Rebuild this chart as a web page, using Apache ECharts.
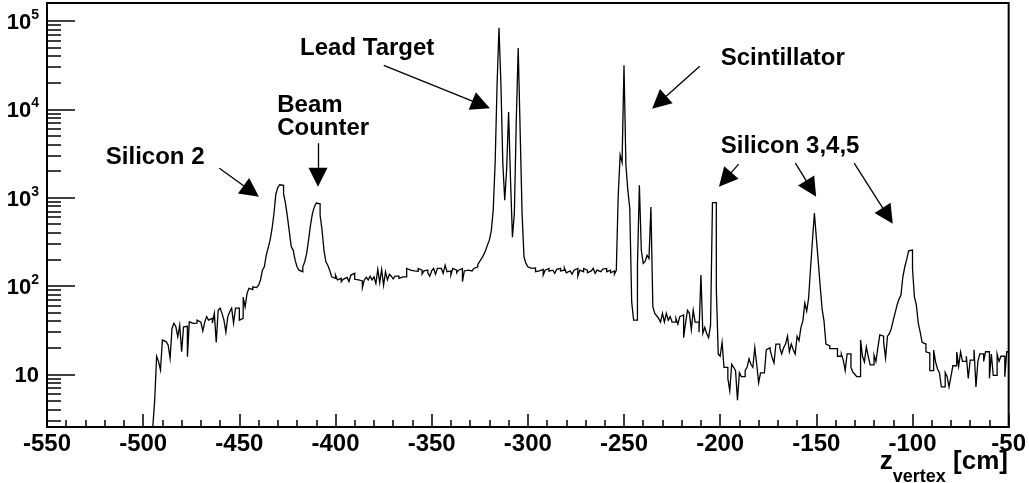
<!DOCTYPE html>
<html><head><meta charset="utf-8">
<script src="https://cdn.jsdelivr.net/npm/echarts@6/dist/echarts.min.js"></script>
<style>html,body{margin:0;padding:0;background:#fff}#c{width:1029px;height:483px}</style>
</head><body><div id="c"></div>
<script>
// ---- data: 1 cm bins, left edges from binStart ----
const binStart = -494;
const binWidth = 1;
// -494 .. -441
const countsRise = [5.1,16,13.9,11.2,24.4,23.3,22.4,21.4,15.2,33,37.7,34.5,26.6,36,18,34.5,35,15.8,39.3,37.7,39,38,41,39,38,31,39,45,41,43,38,49,23,53,56,49,41,30,45,51,56,38,56,56,41,43,75,58,82,94,91,98,96,100];
// -440 .. -403 (Silicon 2, Beam Counter)
const countsSi2Beam = [102,117,151,165,223,270,330,445,660,1100,1300,1400,1380,1110,860,610,410,277,255,196,165,151,145,165,188,233,330,488,660,785,870,850,635,430,255,188,172,150];
// -402 .. -328
const countsFlat1 = [127,122,133,117,122,112,119,125,129,112,133,139,119,117,117,114,96,117,125,117,129,117,127,107,154,109,154,102,145,117,136,129,120,129,129,122,127,125,127,158,151,145,148,145,147,158,151,136,148,151,141,129,148,158,136,158,158,151,139,172,145,148,133,158,151,141,151,158,112,148,151,154,148,151,158];
// -327 .. -301 (Lead Target)
const countsLead = [165,175,190,205,225,250,290,330,420,722,2440,18750,84000,19600,2440,938,2140,9340,1578,357,668,7530,49500,5800,668,214,180];
// -300 .. -255
const countsFlat2 = [165,158,151,160,145,148,141,154,133,151,158,147,151,145,139,154,158,148,151,160,141,148,155,136,151,158,129,151,145,158,151,141,148,154,158,139,151,145,148,155,158,145,151,141,148,136];
// -254 .. -234 (Scintillator)
const countsScint = [150,1067,3030,2500,31500,2335,1215,760,66,41,41,172,1380,255,180,190,223,205,785,58,49];
// -233 .. -205
const countsMid = [46,43,39,49,39,49,41,45,39,39,43,37,45,47,26,38,53,49,32,53,39,39,30,133,29,34,29,26,36];
// -204 .. -171 (Silicon 3 region)
const countsSi3 = [880,880,95,17,16,23,12,12,9,6.5,13,12,11,5.1,10.4,9.4,9.4,11,12,15,13,12,20,13,8,10.4,10.4,10.4,19,20,18.8,15.5,13.4,22];
// -170 .. -144 (Silicon 4)
const countsSi4 = [22,20,17,20,22,27,18,22,19,17,27,24,34,40,64,52,73,160,330,670,350,190,100,55,40,22,21];
// -143 .. -51 (Silicon 5 and tail)
const countsSi5 = [19.5,19.5,20,19.5,16,16,17,14.5,11,17,17,12,10.6,10,9.4,9.4,24.5,16,13.8,20.4,16,12.8,12.8,16.5,14,20,28,27,23,15.3,27,29,33,41,50,61,71,79,127,165,200,250,255,158,75,61,38,30,23,22,18,17.4,11,11,18.8,13.8,11.5,10.4,7.2,7.2,10.5,9.4,7.2,9.4,12.5,12.5,17.9,12.3,17.9,14,14,16,9,14.5,14.5,19,7.2,14,17,17,14,18,18,9,17,9.7,9.7,17,14,16,16,9.4,18];

const xMin = -550, xMax = -50, xStep = 50;
const yMin = 2.53, yMax = 1.6e5;
const yMajor = [10, 100, 1000, 10000, 100000];
const yMinor = [3,4,5,6,7,8,9,20,30,40,50,60,70,80,90,200,300,400,500,600,700,800,900,2000,3000,4000,5000,6000,7000,8000,9000,20000,30000,40000,50000,60000,70000,80000,90000];

const labelTexts = ['Silicon 2','Beam','Counter','Lead Target','Scintillator','Silicon 3,4,5'];
const labelX = [-519.4,-430.3,-430.3,-418.4,-199.7,-199.7];
const labelY = [2871,11120,6110,48500,37350,3776];
const arrowFrom = [[-460.4,2158],[-409.1,4140],[-374.9,31550],[-210.6,30740],[-190.4,2393],[-160.9,2455],[-130.3,2455]];
const arrowTo = [[-443.8,1181],[-409.1,1706],[-324.3,11320],[-231.7,11950],[-197.4,1600],[-152.7,1264],[-112.9,623]];

// ---- build ----
const counts = [].concat(countsRise, countsSi2Beam, countsFlat1, countsLead, countsFlat2, countsScint, countsMid, countsSi3, countsSi4, countsSi5);
const histData = [[binStart - binWidth, yMin]];
counts.forEach((v, i) => histData.push([binStart + i * binWidth, v]));
histData.push([binStart + counts.length * binWidth, counts[counts.length - 1]]);

const FONT = 'Liberation Sans';
const chart = echarts.init(document.getElementById('c'), null, {renderer: 'canvas'});
chart.setOption({
  animation: false,
  backgroundColor: '#fff',
  grid: {left: 47, right: 17, top: 3, bottom: 56, show: true, borderColor: '#000', borderWidth: 2, backgroundColor: 'transparent'},
  title: {
    text: '{z|z}{s|vertex}{u| [cm]}',
    right: 16, top: 444,
    textStyle: {
      rich: {
        z: {fontFamily: FONT, fontWeight: 'bold', fontSize: 26, color: '#000', verticalAlign: 'top', lineHeight: 32},
        s: {fontFamily: FONT, fontWeight: 'bold', fontSize: 18, color: '#000', verticalAlign: 'bottom', lineHeight: 32, padding: [0, 0, -5, 0]},
        u: {fontFamily: FONT, fontWeight: 'bold', fontSize: 26, color: '#000', verticalAlign: 'top', lineHeight: 32}
      }
    }
  },
  xAxis: [{
    type: 'value', min: xMin, max: xMax, interval: xStep,
    axisLine: {show: true, lineStyle: {color: '#000', width: 2}},
    axisTick: {show: true, inside: true, length: 13, lineStyle: {color: '#000', width: 1.5}},
    minorTick: {show: true, splitNumber: 5, length: 7, lineStyle: {color: '#000', width: 1.5}},
    splitLine: {show: false}, minorSplitLine: {show: false},
    axisLabel: {fontFamily: FONT, fontWeight: 'bold', fontSize: 24, color: '#000', margin: 5, showMinLabel: true, showMaxLabel: true}
  }],
  yAxis: [{
    type: 'log', logBase: 10, min: yMin, max: yMax,
    axisLine: {show: true, lineStyle: {color: '#000', width: 2}},
    axisTick: {show: true, inside: true, length: 28, customValues: yMajor, lineStyle: {color: '#000', width: 1.5}},
    splitLine: {show: false},
    axisLabel: {
      customValues: yMajor, margin: 8, color: '#000',
      formatter: v => {
        const p = Math.round(Math.log10(v));
        return p === 1 ? '{b|10}' : '{b|10}{s|' + p + '}';
      },
      rich: {
        b: {fontFamily: FONT, fontWeight: 'bold', fontSize: 22, color: '#000', lineHeight: 26, verticalAlign: 'bottom'},
        s: {fontFamily: FONT, fontWeight: 'bold', fontSize: 14, color: '#000', lineHeight: 26, verticalAlign: 'top'}
      }
    }
  }, {
    type: 'log', logBase: 10, min: yMin, max: yMax, position: 'left',
    axisLine: {show: false},
    axisTick: {show: true, inside: true, length: 14, customValues: yMinor, lineStyle: {color: '#000', width: 1.5}},
    axisLabel: {show: false},
    splitLine: {show: false}
  }],
  series: [{
    type: 'line', step: 'end', data: histData, xAxisIndex: 0, yAxisIndex: 0,
    showSymbol: false, symbol: 'none', silent: true,
    lineStyle: {color: '#000', width: 1.3, join: 'miter', cap: 'butt'}
  }, {
    type: 'scatter', xAxisIndex: 0, yAxisIndex: 0, symbolSize: 0, silent: true,
    itemStyle: {opacity: 1},
    data: labelTexts.map((t, i) => [labelX[i], labelY[i], t]),
    label: {show: true, position: [0, 0], align: 'left', verticalAlign: 'middle', formatter: p => p.data[2],
      fontFamily: FONT, fontWeight: 'bold', fontSize: 24, color: '#000', opacity: 1},
    markLine: {
      silent: true, symbol: ['none', 'triangle'], symbolSize: 19,
      label: {show: false},
      lineStyle: {color: '#000', width: 1.3, type: 'solid', opacity: 1},
      itemStyle: {color: '#000'},
      emphasis: {disabled: true},
      data: arrowFrom.map((f, i) => [{coord: f}, {coord: arrowTo[i]}])
    }
  }]
});
</script></body></html>
